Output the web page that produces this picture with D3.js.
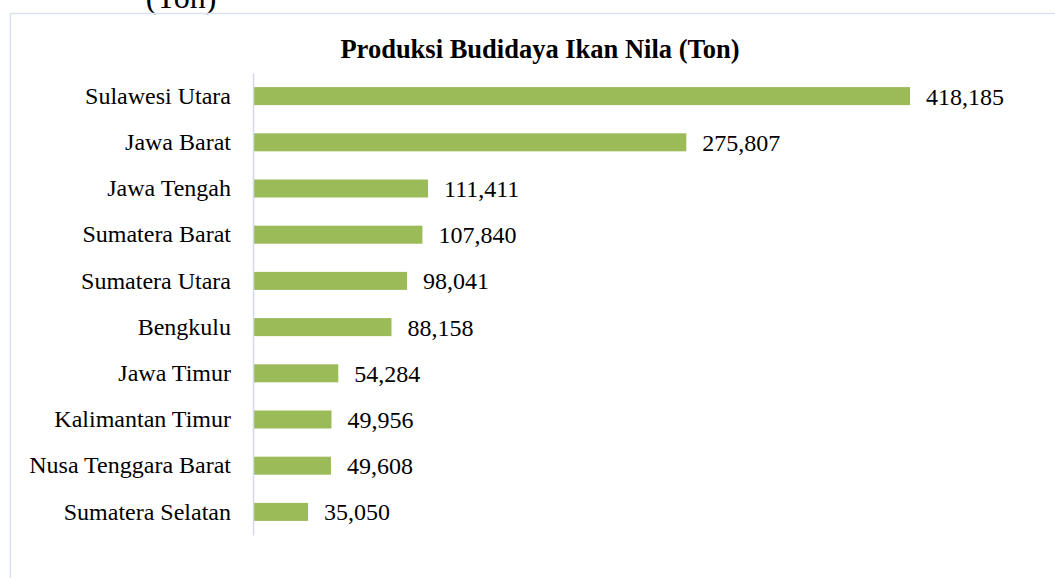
<!DOCTYPE html>
<html><head><meta charset="utf-8">
<script src="https://cdn.jsdelivr.net/npm/d3@7"></script>
<style>body{margin:0;background:#fff}svg{display:block}</style>
</head><body>
<svg id="c" width="1055" height="578"></svg>
<script>
const categories = ["Sulawesi Utara","Jawa Barat","Jawa Tengah","Sumatera Barat","Sumatera Utara","Bengkulu","Jawa Timur","Kalimantan Timur","Nusa Tenggara Barat","Sumatera Selatan"];
const values = [418185,275807,111411,107840,98041,88158,54284,49956,49608,35050];
const title = "Produksi Budidaya Ikan Nila (Ton)";
const topFragment = "(Ton)";

const svg = d3.select("#c");
const font = "'Liberation Serif','Times New Roman',serif";

svg.append("text").attr("x",181).attr("y",8).attr("text-anchor","middle")
  .attr("font-family",font).attr("font-size",32).attr("fill","#000").text(topFragment);

svg.append("rect").attr("x",10.5).attr("y",13.5).attr("width",1060).attr("height",600)
  .attr("fill","none").attr("stroke","#d9e3f0").attr("stroke-width",1.5);

svg.append("text").attr("x",540).attr("y",58).attr("text-anchor","middle")
  .attr("font-family",font).attr("font-size",26.5).attr("font-weight","bold").attr("fill","#000").text(title);

const x = d3.scaleLinear().domain([0,450000]).range([253,960]);
const y = d3.scaleBand().domain(categories).range([73,535]).paddingInner(0.61).paddingOuter(0.305);

svg.selectAll("rect.bar").data(values).join("rect").attr("class","bar")
  .attr("x",x(0)).attr("y",(d,i)=>y(categories[i])).attr("height",y.bandwidth())
  .attr("width",d=>x(d)-x(0)).attr("fill","#9bbb59");

const yAxis = d3.axisLeft(y).tickSize(0).tickPadding(22);
const g = svg.append("g").attr("transform",`translate(${x(0)},0)`).call(yAxis);
g.select(".domain").attr("stroke","#d0dcee").attr("stroke-width",1.5);
g.selectAll("text").attr("font-family",font).attr("font-size",24).attr("fill","#000").attr("dy","0.32em");

svg.selectAll("text.val").data(values).join("text").attr("class","val")
  .attr("x",d=>x(d)+16).attr("y",(d,i)=>y(categories[i])+y.bandwidth()/2).attr("dy","0.35em")
  .attr("font-family",font).attr("font-size",24).attr("fill","#000")
  .text(d=>d3.format(",")(d));
</script>
</body></html>
